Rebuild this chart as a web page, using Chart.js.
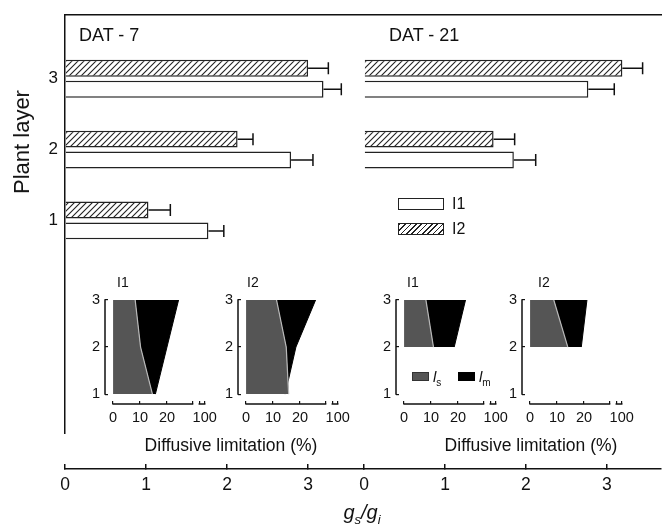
<!DOCTYPE html>
<html>
<head>
<meta charset="utf-8">
<script src="https://cdn.jsdelivr.net/npm/chart.js@4.4.0/dist/chart.umd.min.js"></script>
<style>
  body { margin: 0; background: #fff; }
  #wrap { position: relative; width: 662px; height: 528px; overflow: hidden; font-family: 'Liberation Sans', Arial, sans-serif; color: #111; }
  canvas { position: absolute; }
  .txt { position: absolute; white-space: nowrap; line-height: 1; }
  .box { position: absolute; box-sizing: border-box; }
</style>
</head>
<body>
<div id="wrap">
  <canvas id="main" width="662" height="533" style="left:0;top:-5px"></canvas>
  <canvas id="i7a" width="150" height="147" style="left:75px;top:283px"></canvas>
  <canvas id="i7b" width="150" height="147" style="left:208px;top:283px"></canvas>
  <canvas id="i21a" width="150" height="147" style="left:366px;top:283px"></canvas>
  <canvas id="i21b" width="150" height="147" style="left:492px;top:283px"></canvas>

  <div class="txt" style="left:79px;top:26px;font-size:18px">DAT - 7</div>
  <div class="txt" style="left:389px;top:26px;font-size:18px">DAT - 21</div>

  <div class="box" style="left:398px;top:198px;width:46px;height:12px;border:1.5px solid #222;background:#fff"></div>
  <div class="txt" style="left:452px;top:196px;font-size:16px">I1</div>
  <div class="box" style="left:398px;top:223px;width:46px;height:12px;border:1.5px solid #222;background:repeating-linear-gradient(-45deg,#fff 0 2.6px,#222 2.6px 3.8px)"></div>
  <div class="txt" style="left:452px;top:221px;font-size:16px">I2</div>

  <div class="txt" style="left:117px;top:275px;font-size:14px">I1</div>
  <div class="txt" style="left:247px;top:275px;font-size:14px">I2</div>
  <div class="txt" style="left:407px;top:275px;font-size:14px">I1</div>
  <div class="txt" style="left:538px;top:275px;font-size:14px">I2</div>

  <div class="box" style="left:412px;top:372px;width:17px;height:9px;background:#555;border:1px solid #333"></div>
  <div class="txt" style="left:433px;top:369px;font-size:15px"><i>l</i><sub style="font-size:10px">s</sub></div>
  <div class="box" style="left:458px;top:372px;width:17px;height:9px;background:#000"></div>
  <div class="txt" style="left:479px;top:369px;font-size:15px"><i>l</i><sub style="font-size:10px">m</sub></div>

  <div class="txt" style="left:231px;top:437px;font-size:17.5px;transform:translateX(-50%)">Diffusive limitation (%)</div>
  <div class="txt" style="left:531px;top:437px;font-size:17.5px;transform:translateX(-50%)">Diffusive limitation (%)</div>

  <div class="txt" style="left:362px;top:502px;font-size:20px;font-style:italic;transform:translateX(-50%)">g<sub style="font-size:13px">s</sub>/g<sub style="font-size:13px">i</sub></div>
  <div class="txt" style="left:22px;top:142px;font-size:22px;transform:translate(-50%,-50%) rotate(-90deg)">Plant layer</div>
</div>
<script>
// plant layers (y positions of bars and inset rows)
const layers = [1, 2, 3]
// g_s/g_i bars, DAT-7
const dat7I1 = [1.77, 2.79, 3.19]
const dat7I1Err = [0.19, 0.27, 0.22]
const dat7I2 = [1.03, 2.13, 3.00]
const dat7I2Err = [0.27, 0.19, 0.25]
// g_s/g_i bars, DAT-21 (no layer 1)
const dat21I1 = [null, 1.85, 2.77]
const dat21I1Err = [null, 0.27, 0.32]
const dat21I2 = [null, 1.60, 3.19]
const dat21I2Err = [null, 0.26, 0.25]
const mainTicks = [0, 1, 2, 3]

// diffusive limitation (%), l_s and l_m per layer
const d7I1Ls = [14.6, 10.2, 8.2]
const d7I1Lm = [1.1, 9.8, 16.1]
const d7I2Ls = [15.8, 14.9, 11.3]
const d7I2Lm = [-1.3, 3.6, 14.5]
const d21I1Ls = [null, 10.9, 8.1]
const d21I1Lm = [null, 7.7, 14.7]
const d21I2Ls = [null, 14.0, 8.8]
const d21I2Lm = [null, 5.0, 12.3]
const insetTicks = [0, 10, 20, 29.5, 32, 34]
const insetTickLabels = ['0', '10', '20', '', '', '100']
const insetAxisSegments = [[0, 29.5], [32, 34]]

Chart.defaults.font.family = "'Liberation Sans', Arial, sans-serif"
Chart.defaults.color = '#111'

function makeHatch() {
    const c = document.createElement('canvas')
    c.width = 6; c.height = 6
    const g = c.getContext('2d')
    g.fillStyle = '#fff'
    g.fillRect(0, 0, 6, 6)
    g.strokeStyle = '#222'
    g.lineWidth = 1.1
    g.beginPath()
    g.moveTo(0, 6); g.lineTo(6, 0)
    g.moveTo(-1, 1); g.lineTo(1, -1)
    g.moveTo(5, 7); g.lineTo(7, 5)
    g.stroke()
    return g.createPattern(c, 'repeat')
}
const hatch = makeHatch()

const errorBars = {
    id: 'errorBars',
    afterDatasetsDraw(chart) {
        const ctx = chart.ctx
        chart.data.datasets.forEach((ds, d) => {
            const meta = chart.getDatasetMeta(d)
            const xs = chart.scales[meta.xAxisID]
            meta.data.forEach((bar, i) => {
                const pt = ds.data[i]
                if (!pt || pt.x == null || pt.err == null) return
                const x0 = xs.getPixelForValue(pt.x)
                const x1 = xs.getPixelForValue(pt.x + pt.err)
                ctx.save()
                ctx.strokeStyle = '#111'
                ctx.lineWidth = 1.5
                ctx.beginPath()
                ctx.moveTo(x0, bar.y); ctx.lineTo(x1, bar.y)
                ctx.moveTo(x1, bar.y - 6); ctx.lineTo(x1, bar.y + 6)
                ctx.stroke()
                ctx.restore()
            })
        })
    }
}

const insetAxes = {
    id: 'insetAxes',
    afterDraw(chart) {
        const { ctx, chartArea } = chart
        const x = chart.scales.x, y = chart.scales.y
        ctx.save()
        ctx.strokeStyle = '#111'
        ctx.lineWidth = 1.5
        ctx.beginPath()
        ctx.moveTo(chartArea.left, y.getPixelForValue(layers[0]) + 0.75)
        ctx.lineTo(chartArea.left, y.getPixelForValue(layers[layers.length - 1]) - 0.75)
        insetAxisSegments.forEach(s => {
            ctx.moveTo(x.getPixelForValue(s[0]) - 0.75, chartArea.bottom)
            ctx.lineTo(x.getPixelForValue(s[1]) + 0.75, chartArea.bottom)
        })
        ctx.stroke()
        ctx.restore()
    }
}

// skip layers without a value so no empty bar elements are made
const toPts = (arr, err) => layers.map((l, k) => ({ y: l, x: arr[k], err: err[k] })).filter(p => p.x != null)
const barOpts = { yAxisID: 'y', borderColor: '#222', borderWidth: 1.5, borderSkipped: 'start', categoryPercentage: 0.59, barPercentage: 0.81 }

function panelAxis(max, weight) {
    return {
        type: 'linear', axis: 'x', position: 'bottom', weight: 10, stack: 'bottom', stackWeight: weight,
        min: 0, max: max, stacked: false,
        afterBuildTicks: s => { s.ticks = mainTicks.map(v => ({ value: v })) },
        grid: { drawOnChartArea: false, tickLength: -5, color: '#111', lineWidth: 1.5 },
        border: { color: '#111', width: 1.5 },
        ticks: { padding: 11, font: { size: 17.5 } },
        afterFit: s => { s.height = 59 }
    }
}

new Chart(document.getElementById('main'), {
    type: 'bar',
    data: {
        datasets: [
            Object.assign({ label: 'DAT-7 I2', data: toPts(dat7I2, dat7I2Err), xAxisID: 'x7', stack: 'I2', backgroundColor: hatch }, barOpts),
            Object.assign({ label: 'DAT-7 I1', data: toPts(dat7I1, dat7I1Err), xAxisID: 'x7', stack: 'I1', backgroundColor: '#fff' }, barOpts),
            Object.assign({ label: 'DAT-21 I2', data: toPts(dat21I2, dat21I2Err), xAxisID: 'x21', stack: 'I2', backgroundColor: hatch }, barOpts),
            Object.assign({ label: 'DAT-21 I1', data: toPts(dat21I1, dat21I1Err), xAxisID: 'x21', stack: 'I1', backgroundColor: '#fff' }, barOpts)
        ]
    },
    options: {
        responsive: false,
        animation: false,
        indexAxis: 'y',
        layout: { padding: { top: 20, right: 1, bottom: 0, left: 0 } },
        plugins: { legend: { display: false }, tooltip: { enabled: false } },
        scales: {
            x7: panelAxis(3.69, 299),
            x21: panelAxis(3.667, 297),
            gap: {
                type: 'linear', axis: 'x', position: 'bottom', weight: 0,
                grid: { display: false }, border: { display: false }, ticks: { display: false },
                afterFit: s => { s.height = 36 }
            },
            top: {
                type: 'linear', axis: 'x', position: 'top',
                grid: { display: false, drawTicks: false }, border: { color: '#111', width: 1.5 }, ticks: { display: false }
            },
            y: {
                type: 'linear', position: 'left', min: -2, max: 3.9, offset: false,
                afterBuildTicks: s => { s.ticks = layers.map(v => ({ value: v })) },
                grid: { display: false, drawTicks: false, offset: false },
                border: { color: '#111', width: 1.5 },
                ticks: { padding: 7, font: { size: 17 } },
                afterFit: s => { s.width = 65 }
            }
        }
    },
    plugins: [errorBars]
})

function insetChart(id, ls, lm) {
    const lsPts = layers.map((l, k) => ({ y: l, x: ls[k] }))
    const totPts = layers.map((l, k) => ({ y: l, x: ls[k] == null ? null : ls[k] + lm[k] }))
    return new Chart(document.getElementById(id), {
        type: 'line',
        data: {
            datasets: [
                { label: 'ls', data: lsPts, fill: 'origin', backgroundColor: '#555', borderColor: '#b8b8b8', borderWidth: 1.2, pointRadius: 0 },
                { label: 'lm', data: totPts, fill: '-1', backgroundColor: '#000', borderColor: '#000', borderWidth: 1, pointRadius: 0 }
            ]
        },
        options: {
            responsive: false,
            animation: false,
            indexAxis: 'y',
            layout: { padding: { top: 17, right: 15, bottom: 0, left: 0 } },
            plugins: { legend: { display: false }, tooltip: { enabled: false } },
            scales: {
                x: {
                    type: 'linear', min: -3, max: 34.5,
                    afterBuildTicks: s => { s.ticks = insetTicks.map(v => ({ value: v })) },
                    ticks: { callback: (v, i) => insetTickLabels[i], autoSkip: false, maxRotation: 0, padding: 8, font: { size: 14.5 } },
                    grid: { drawOnChartArea: false, tickLength: -3, color: '#111', lineWidth: 1.2 },
                    border: { display: false },
                    afterFit: s => { s.height = 26 }
                },
                y: {
                    type: 'linear', min: 0.79, max: 3,
                    afterBuildTicks: s => { s.ticks = layers.map(v => ({ value: v })) },
                    ticks: { padding: 8, font: { size: 14.5 } },
                    grid: { drawOnChartArea: false, tickLength: -3, color: '#111', lineWidth: 1.2 },
                    border: { display: false },
                    afterFit: s => { s.width = 30 }
                }
            }
        },
        plugins: [insetAxes]
    })
}

insetChart('i7a', d7I1Ls, d7I1Lm)
insetChart('i7b', d7I2Ls, d7I2Lm)
insetChart('i21a', d21I1Ls, d21I1Lm)
insetChart('i21b', d21I2Ls, d21I2Lm)
</script>
</body>
</html>
